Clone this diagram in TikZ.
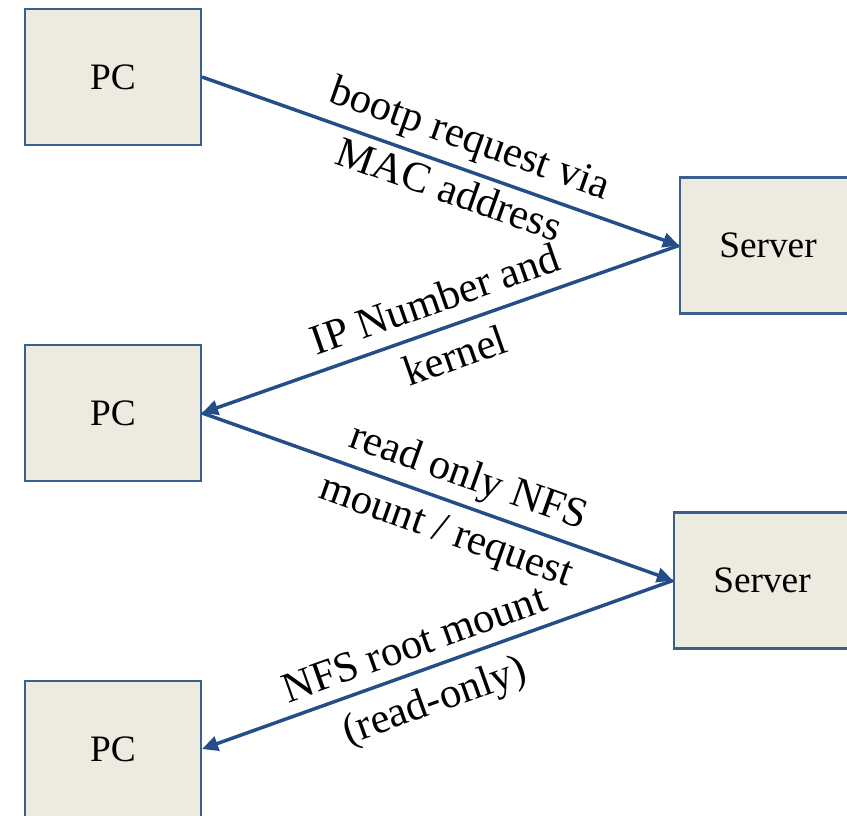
\documentclass[tikz,border=0pt]{standalone}
\usepackage{fontspec}
\setmainfont{Liberation Serif}
\usetikzlibrary{arrows.meta}
\definecolor{boxfill}{HTML}{EDEBE0}
\definecolor{boxline}{HTML}{3A5F8E}
\definecolor{arrowcol}{HTML}{254E88}
\tikzset{
  box/.style={draw=boxline, line width=1.6pt, fill=boxfill, minimum width=132pt, minimum height=102pt, inner sep=0pt, font=\fontsize{28}{33}\selectfont},
  conn/.style={draw=arrowcol, line width=2.6pt, -{Triangle[length=12pt,width=11pt]}},
  lbl/.style={sloped, anchor=base, inner sep=0pt, font=\fontsize{32}{36}\selectfont}
}
\begin{document}
\begin{tikzpicture}[x=0.75pt,y=-0.75pt]
\useasboundingbox (0,0) rectangle (847,815);
\clip (0,0) rectangle (847,815);
\node[box] (pc1) at (113,77) {PC};
\node[box] (srv1) at (768,245.5) {Server};
\node[box] (pc2) at (113,413) {PC};
\node[box] (srv2) at (762,580.5) {Server};
\node[box] (pc3) at (113,749) {PC};
\draw[conn] (pc1.east) -- (srv1.west)
  node[lbl, pos=0.54, yshift=14pt] {bootp request via}
  node[lbl, pos=0.535, yshift=-28pt] {MAC address};
\draw[conn] (srv1.west) -- (pc2.east)
  node[lbl, pos=0.49, yshift=12pt] {IP Number and}
  node[lbl, pos=0.49, yshift=-33pt] {kernel};
\draw[conn] (pc2.east) -- (srv2.west)
  node[lbl, pos=0.545, yshift=13pt] {read only NFS}
  node[lbl, pos=0.54, yshift=-31pt] {mount / request};
\draw[conn] (srv2.west) -- (pc3.east)
  node[lbl, pos=0.53, yshift=10.5pt] {NFS root mount}
  node[lbl, pos=0.53, yshift=-34pt] {(read-only)};
\end{tikzpicture}
\end{document}
